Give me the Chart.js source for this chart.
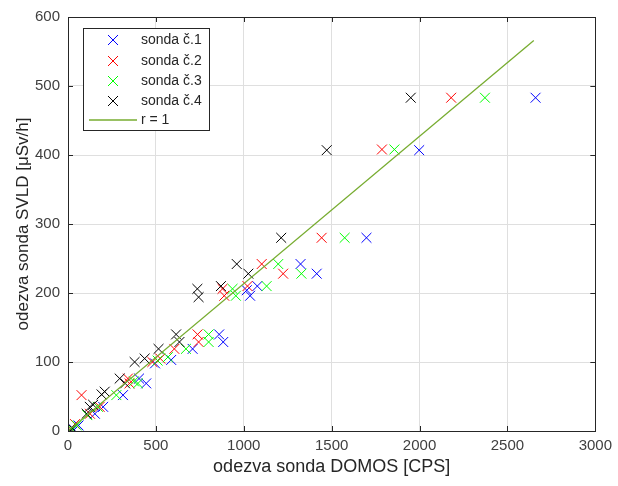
<!DOCTYPE html>
<html lang="cs">
<head>
    <meta charset="UTF-8">
    <title>DOMOS vs SVLD</title>
    <script src="https://cdn.jsdelivr.net/npm/chart.js"></script>
    <style>
        html, body { margin: 0; padding: 0; background: #fff; }
    </style>
</head>
<body>
    <canvas id="scatterChart" width="618" height="486"></canvas>

    <script>
        // probe names + colours (legend order)
        const probeNames = ['sonda č.1', 'sonda č.2', 'sonda č.3', 'sonda č.4'];
        const probeColors = ['#0000ff', '#ff0000', '#00ff00', '#000000'];

        // sonda č.1
        const probe1X = [2660, 1998, 1698, 1415, 1323, 1077, 1017, 1036, 860, 883, 709, 587, 495, 404, 445, 313, 200, 153, 60, 30];
        const probe1Y = [483, 407, 280, 228, 242, 210, 204, 196, 140, 129, 119, 103, 98, 76, 69, 52, 35, 25, 8, 3];

        // sonda č.2
        const probe2X = [2180, 1786, 1443, 1224, 1102, 1021, 879, 889, 737, 743, 605, 525, 480, 341, 350, 77, 180, 125, 40, 15];
        const probe2Y = [483, 408, 280, 228, 242, 210, 206, 196, 140, 129, 119, 105, 100, 76, 69, 52, 35, 25, 10, 3];

        // sonda č.3
        const probe3X = [2372, 1857, 1574, 1328, 1196, 1130, 936, 955, 800, 800, 671, 568, 510, 375, 398, 275, 170, 110, 50, 20];
        const probe3Y = [483, 408, 280, 228, 242, 210, 206, 196, 140, 129, 119, 107, 102, 72, 69, 52, 35, 23, 8, 3];

        // sonda č.4
        const probe4X = [1950, 1472, 1213, 1026, 960, 870, 736, 743, 615, 634, 515, 436, 379, 294, 325, 191, 209, 143, 124, 106, 25, 10];
        const probe4Y = [483, 407, 280, 228, 242, 210, 206, 194, 140, 129, 119, 105, 100, 76, 69, 53, 57, 38, 35, 25, 4, 2];

        // r = 1 reference line
        const lineX = [0, 2650];
        const lineY = [0, 566];

        const xMin = 0, xMax = 3000, xStep = 500;
        const yMin = 0, yMax = 600, yStep = 100;

        const axisColor = '#262626';
        const tickColor = '#404040';
        const gridColor = '#dfdfdf';
        const fontFamily = '"Liberation Sans", Arial, Helvetica, sans-serif';

        function toPoints(xs, ys) {
            return xs.map((x, i) => ({ x: x, y: ys[i] }));
        }

        const probeX = [probe1X, probe2X, probe3X, probe4X];
        const probeY = [probe1Y, probe2Y, probe3Y, probe4Y];

        const datasets = probeNames.map((name, i) => ({
            label: name,
            data: toPoints(probeX[i], probeY[i]),
            pointStyle: 'crossRot',
            pointRadius: 7,
            pointHoverRadius: 7,
            borderColor: probeColors[i],
            backgroundColor: probeColors[i],
            pointBorderWidth: 1,
            showLine: false,
            order: 4 - i
        }));

        datasets.push({
            label: 'r = 1',
            data: toPoints(lineX, lineY),
            showLine: true,
            borderColor: '#77ac30',
            borderWidth: 1.3,
            pointRadius: 0,
            fill: false,
            order: 0
        });

        // box, inner ticks and legend, MATLAB style
        const matlabFrame = {
            id: 'matlabFrame',
            afterDraw(chart) {
                const ctx = chart.ctx;
                const area = chart.chartArea;
                const xs = chart.scales.x;
                const ys = chart.scales.y;
                ctx.save();
                ctx.strokeStyle = axisColor;
                ctx.lineWidth = 1;

                // inner tick marks on all four sides
                ctx.beginPath();
                xs.ticks.forEach(t => {
                    const px = Math.round(xs.getPixelForValue(t.value)) + 0.5;
                    ctx.moveTo(px, area.bottom); ctx.lineTo(px, area.bottom - 5);
                    ctx.moveTo(px, area.top); ctx.lineTo(px, area.top + 5);
                });
                ys.ticks.forEach(t => {
                    const py = Math.round(ys.getPixelForValue(t.value)) + 0.5;
                    ctx.moveTo(area.left, py); ctx.lineTo(area.left + 5, py);
                    ctx.moveTo(area.right, py); ctx.lineTo(area.right - 5, py);
                });
                ctx.stroke();

                ctx.strokeRect(Math.round(area.left) + 0.5, Math.round(area.top) + 0.5,
                    Math.round(area.right - area.left), Math.round(area.bottom - area.top));

                // legend box
                const lx = 83.5, ly = 28.5, lw = 126, lh = 102;
                ctx.fillStyle = '#ffffff';
                ctx.fillRect(lx, ly, lw, lh);
                ctx.strokeRect(lx, ly, lw, lh);

                ctx.font = '14px ' + fontFamily;
                ctx.textBaseline = 'middle';
                ctx.textAlign = 'left';
                const rowY = [40, 61, 81, 101, 120];
                probeNames.forEach((name, i) => {
                    const cx = 113, cy = rowY[i], r = 5;
                    ctx.strokeStyle = probeColors[i];
                    ctx.beginPath();
                    ctx.moveTo(cx - r, cy - r); ctx.lineTo(cx + r, cy + r);
                    ctx.moveTo(cx - r, cy + r); ctx.lineTo(cx + r, cy - r);
                    ctx.stroke();
                    ctx.fillStyle = axisColor;
                    ctx.fillText(name, 141, cy);
                });
                ctx.strokeStyle = '#77ac30';
                ctx.lineWidth = 1.3;
                ctx.beginPath();
                ctx.moveTo(89, rowY[4]); ctx.lineTo(137, rowY[4]);
                ctx.stroke();
                ctx.fillStyle = axisColor;
                ctx.fillText('r = 1', 141, rowY[4]);

                ctx.restore();
            }
        };

        const ctx = document.getElementById('scatterChart').getContext('2d');
        new Chart(ctx, {
            type: 'scatter',
            data: { datasets: datasets },
            options: {
                responsive: false,
                animation: false,
                layout: { padding: { left: 0, right: 20, top: 16, bottom: 0 } },
                plugins: {
                    legend: { display: false },
                    tooltip: { enabled: false }
                },
                scales: {
                    x: {
                        type: 'linear',
                        min: xMin,
                        max: xMax,
                        afterFit: scale => { scale.height = 55; },
                        ticks: {
                            stepSize: xStep,
                            padding: 6,
                            color: tickColor,
                            font: { family: fontFamily, size: 15 },
                            callback: v => String(v)
                        },
                        grid: { color: gridColor, drawTicks: false },
                        border: { display: false },
                        title: {
                            display: true,
                            text: 'odezva sonda DOMOS [CPS]',
                            color: axisColor,
                            font: { family: fontFamily, size: 18 },
                            padding: { top: 0, bottom: 8 }
                        }
                    },
                    y: {
                        type: 'linear',
                        min: yMin,
                        max: yMax,
                        afterFit: scale => { scale.width = 68; },
                        ticks: {
                            stepSize: yStep,
                            padding: 8,
                            color: tickColor,
                            font: { family: fontFamily, size: 15 },
                            callback: v => String(v)
                        },
                        grid: { color: gridColor, drawTicks: false },
                        border: { display: false },
                        title: {
                            display: true,
                            text: 'odezva sonda SVLD [μSv/h]',
                            color: axisColor,
                            font: { family: fontFamily, size: 17 },
                            padding: { top: 13, bottom: 0 }
                        }
                    }
                }
            },
            plugins: [matlabFrame]
        });
    </script>
</body>
</html>
